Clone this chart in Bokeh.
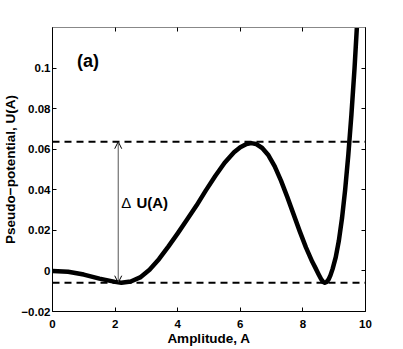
from bokeh.plotting import figure
from bokeh.models import (Span, Arrow, OpenHead, Label, LinearAxis, FixedTicker, Range1d,
                          CustomLabelingPolicy)
from bokeh.embed import file_html
from bokeh.resources import INLINE

# ---- data ----
amplitude = [0.0, 0.5, 1.0, 1.5, 2.0, 2.2, 2.5, 2.8, 3.1, 3.4, 3.7, 4.0, 4.3, 4.6, 4.9,
             5.2, 5.5, 5.8, 6.0, 6.2, 6.35, 6.5, 6.7, 6.9, 7.1, 7.3, 7.5, 7.7, 7.9,
             8.1, 8.3, 8.4, 8.5, 8.58, 8.64, 8.7, 8.76, 8.82, 8.88, 8.95, 9.05, 9.15, 9.25,
             9.35, 9.45, 9.55, 9.65, 9.75, 9.85]
potential = [0.0000, -0.0004, -0.0018, -0.0038, -0.0054, -0.0058, -0.0052, -0.0032, 0.0006,
             0.0058, 0.0120, 0.0185, 0.0253, 0.0322, 0.0397, 0.0468, 0.0533, 0.0585,
             0.0610, 0.0626, 0.0630, 0.0626, 0.0606, 0.0570, 0.0515, 0.0445, 0.0365,
             0.0280, 0.0195, 0.0115, 0.0045, 0.0015, -0.0016, -0.0040, -0.0053, -0.0058,
             -0.0054, -0.0042, -0.0022, 0.0010, 0.0068, 0.0150, 0.0260, 0.0400, 0.0570,
             0.0770, 0.1000, 0.1270, 0.1560]
levels = [0.0637, -0.0058]          # barrier top and well bottom
arrow_a = 2.1                       # amplitude where the delta-U arrow is drawn
x_ticks = [0, 2, 4, 6, 8, 10]
y_ticks = [-0.02, 0, 0.02, 0.04, 0.06, 0.08, 0.1]
y_tick_labels = ["\u22120.02", "0", "0.02", "0.04", "0.06", "0.08", "0.1"]

FONT = "Liberation Sans"

p = figure(frame_width=313, frame_height=284, output_backend="svg", toolbar_location=None,
           x_range=Range1d(0, 10), y_range=Range1d(-0.02, 0.12),
           min_border_left=44, min_border_top=27, min_border_right=30, min_border_bottom=36)
p.background_fill_color = "white"
p.border_fill_color = "white"
p.outline_line_color = None
p.xgrid.grid_line_color = None
p.ygrid.grid_line_color = None

# dashed reference levels
for lv in levels:
    p.add_layout(Span(location=lv, dimension="width", line_color="black",
                      line_width=2, line_dash="7 5"))

# the potential curve
p.line(amplitude, potential, line_color="black", line_width=4.5, line_join="round")

# delta-U arrow
p.add_layout(Arrow(x_start=arrow_a, y_start=levels[1], x_end=arrow_a, y_end=levels[0],
                   line_color="#555555", line_width=1,
                   start=OpenHead(size=7, line_color="black", line_width=1),
                   end=OpenHead(size=7, line_color="black", line_width=1)))

p.add_layout(Label(x=2.2, y=0.0338, text="\u0394", text_font=FONT, text_font_size="15px",
                   text_baseline="middle", text_color="black"))
p.add_layout(Label(x=2.68, y=0.0338, text="U(A)", text_font=FONT, text_font_size="15px",
                   text_font_style="bold", text_baseline="middle", text_color="black"))
p.add_layout(Label(x=0.78, y=0.1035, text="(a)", text_font=FONT, text_font_size="18px",
                   text_font_style="bold", text_baseline="middle", text_color="black"))

no_labels = CustomLabelingPolicy(code="""
for (const i of Array.from(indices)) { indices.unset(i) }
return indices
""")

def style(ax, show_labels=True, color="black", standoff=3, label_size="13px", label_standoff=1):
    ax.axis_line_color = color
    ax.axis_line_width = 1
    ax.major_tick_in = 4
    ax.major_tick_out = 0
    ax.minor_tick_line_color = None
    ax.major_tick_line_color = "black"
    ax.major_label_text_font = FONT
    ax.major_label_text_font_style = "bold"
    ax.major_label_text_font_size = "11.5px"
    ax.major_label_text_color = "black"
    ax.major_label_standoff = standoff
    ax.axis_label_text_font = FONT
    ax.axis_label_text_font_style = "bold"
    ax.axis_label_text_font_size = label_size
    ax.axis_label_text_color = "black"
    ax.axis_label_standoff = label_standoff
    if not show_labels:
        ax.major_label_policy = no_labels

xb = p.xaxis[0]
xb.ticker = FixedTicker(ticks=x_ticks)
xb.axis_label = "Amplitude, A"
style(xb, standoff=8, label_size="13.5px", label_standoff=0)
yl = p.yaxis[0]
yl.ticker = FixedTicker(ticks=y_ticks)
yl.major_label_overrides = {t: s for t, s in zip(y_ticks, y_tick_labels)}
yl.axis_label = "Pseudo\u2212potential, U(A)"
style(yl, standoff=2, label_size="13.5px", label_standoff=0)

xt = LinearAxis(ticker=FixedTicker(ticks=x_ticks))
style(xt, show_labels=False, color="#888888")
p.add_layout(xt, "above")
yr = LinearAxis(ticker=FixedTicker(ticks=y_ticks))
style(yr, show_labels=False)
p.add_layout(yr, "right")

open("out.html", "w").write(file_html(p, INLINE))
